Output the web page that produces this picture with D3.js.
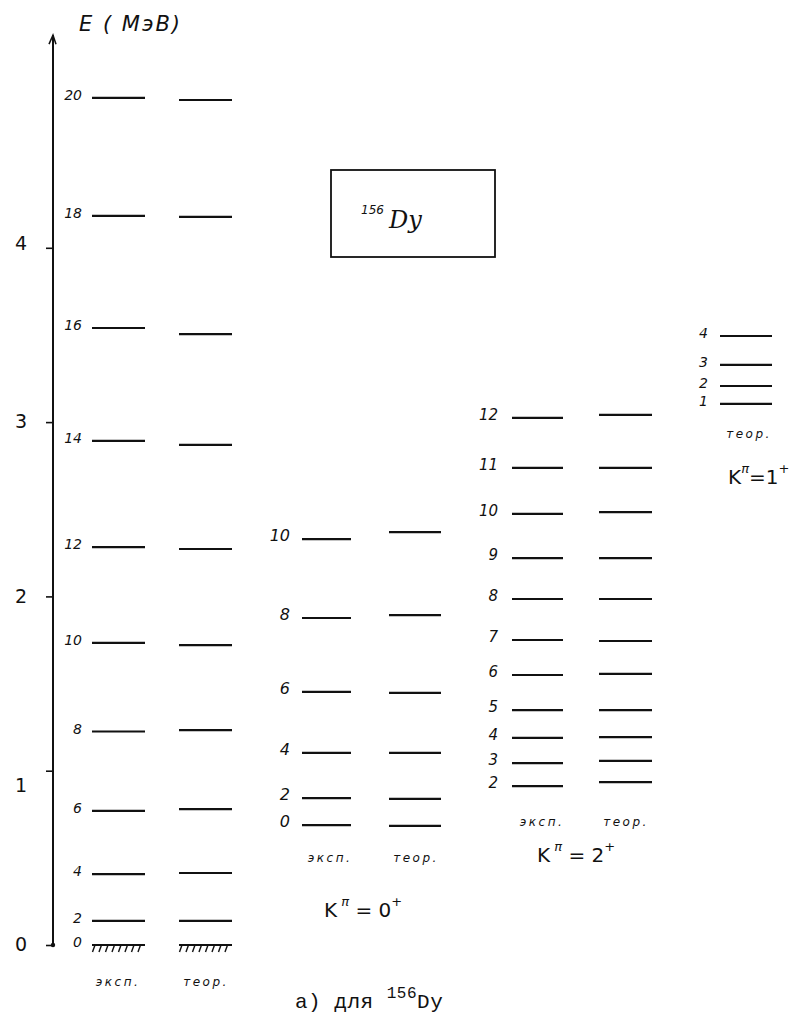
<!DOCTYPE html>
<html>
<head>
<meta charset="utf-8">
<script src="https://cdn.jsdelivr.net/npm/d3@7"></script>
<style>
  body { margin: 0; background: #fff; }
  svg { display: block; }
  text { fill: #111; }
</style>
</head>
<body>
<svg id="chart" width="796" height="1016"></svg>
<script>
// ---------- data (energies in MeV) ----------
const axisTicks = [0, 1, 2, 3, 4];

const groundSpins = [0, 2, 4, 6, 8, 10, 12, 14, 16, 18, 20];
const groundExp   = [0, 0.138, 0.407, 0.769, 1.225, 1.733, 2.283, 2.892, 3.540, 4.183, 4.860];
const groundTheor = [0, 0.138, 0.413, 0.780, 1.233, 1.721, 2.272, 2.869, 3.505, 4.177, 4.848];

const k0Spins = [0, 2, 4, 6, 8, 10];
const k0Exp   = [0.688, 0.843, 1.102, 1.452, 1.876, 2.329];
const k0Theor = [0.683, 0.838, 1.102, 1.446, 1.893, 2.369];

const k2Spins = [2, 3, 4, 5, 6, 7, 8, 9, 10, 11, 12];
const k2Exp   = [0.912, 1.044, 1.188, 1.348, 1.549, 1.750, 1.985, 2.220, 2.473, 2.737, 3.024];
const k2Theor = [0.935, 1.056, 1.193, 1.348, 1.555, 1.744, 1.985, 2.220, 2.484, 2.737, 3.041];

const k1Spins = [1, 2, 3, 4];
const k1Theor = [3.104, 3.207, 3.328, 3.494];

const columnLabels = { exp: "эксп.", theor: "теор." };

// ---------- drawing ----------
const svg = d3.select("#chart");
const y = d3.scaleLinear().domain([0, 5]).range([945, 945 - 5 * 174.3]);
const axisX = 53;
const handFont = "'DejaVu Sans', sans-serif";

// axis
const axisG = svg.append("g").attr("transform", `translate(${axisX},0)`);
axisG.call(d3.axisLeft(y).tickValues(axisTicks).tickSize(7).tickPadding(19).tickFormat(d3.format("d")));
axisG.select(".domain").remove();
axisG.selectAll(".tick line").attr("stroke", "#111").attr("stroke-width", 1.6);
axisG.selectAll(".tick text")
  .attr("font-family", handFont)
  .attr("font-size", 19)
  .attr("fill", "#111")
  .attr("dy", d => d === 1 ? "1.1em" : d === 4 ? "0.1em" : "0.3em");
axisG.append("line")
  .attr("x1", 0).attr("x2", 0)
  .attr("y1", y(0)).attr("y2", y(5.22))
  .attr("stroke", "#111").attr("stroke-width", 2);
axisG.append("path")
  .attr("d", `M-4,${y(5.22) + 9} L0,${y(5.22)} L3,${y(5.22) + 9}`)
  .attr("fill", "none").attr("stroke", "#111").attr("stroke-width", 1.5);
axisG.append("circle").attr("cx", 0).attr("cy", y(0)).attr("r", 2.2).attr("fill", "#111");

svg.append("text")
  .attr("x", 79).attr("y", 31)
  .attr("font-family", handFont).attr("font-size", 21)
  .attr("font-style", "italic")
  .attr("letter-spacing", 2)
  .text("E ( MэВ)");

// helper to draw a column of levels
function drawColumn(energies, x1, x2) {
  svg.append("g").selectAll("line")
    .data(energies)
    .join("line")
    .attr("x1", x1).attr("x2", x2)
    .attr("y1", d => y(d)).attr("y2", d => y(d))
    .attr("stroke", "#111").attr("stroke-width", 2.2);
}
function drawSpins(spins, energies, xRight, size) {
  svg.append("g").selectAll("text")
    .data(spins)
    .join("text")
    .attr("x", xRight)
    .attr("y", (d, i) => y(energies[i]))
    .attr("dy", "0.15em")
    .attr("text-anchor", "end")
    .attr("font-family", handFont)
    .attr("font-style", "italic")
    .attr("font-size", size)
    .text(d => d);
}
function colLabel(txt, x, yy) {
  svg.append("text")
    .attr("x", x).attr("y", yy)
    .attr("text-anchor", "middle")
    .attr("font-family", handFont)
    .attr("font-style", "italic")
    .attr("font-size", 12)
    .attr("letter-spacing", 2.5)
    .text(txt);
}
function hatch(x1, x2, e) {
  const g = svg.append("g");
  const yy = y(e);
  d3.range(x1 + 3, x2, 6.5).forEach(x => {
    g.append("line").attr("x1", x).attr("y1", yy).attr("x2", x - 2.5).attr("y2", yy + 7)
      .attr("stroke", "#111").attr("stroke-width", 1.4);
  });
}
function kLabel(x, yy, val, size, tight) {
  const t = svg.append("text").attr("x", x).attr("y", yy)
    .attr("font-family", handFont).attr("font-size", size);
  t.append("tspan").text("K");
  t.append("tspan").attr("dy", -size * 0.55).attr("font-size", size * 0.65).attr("font-style", "italic").text(tight ? "π" : " π");
  t.append("tspan").attr("dy", size * 0.55).text(tight ? "=" + val : " = " + val);
  t.append("tspan").attr("dy", -size * 0.55).attr("font-size", size * 0.65).text("+");
}

// ground band
drawColumn(groundExp, 92, 145);
drawColumn(groundTheor, 179, 232);
drawSpins(groundSpins, groundExp, 82, 14);
hatch(92, 145, 0);
hatch(179, 232, 0);
colLabel(columnLabels.exp, 118, 986);
colLabel(columnLabels.theor, 206, 986);

// K=0 band
drawColumn(k0Exp, 302, 351);
drawColumn(k0Theor, 389, 441);
drawSpins(k0Spins, k0Exp, 290, 16);
colLabel(columnLabels.exp, 330, 862);
colLabel(columnLabels.theor, 416, 862);
kLabel(324, 917, "0", 20, false);

// K=2 band
drawColumn(k2Exp, 512, 563);
drawColumn(k2Theor, 599, 652);
drawSpins(k2Spins, k2Exp, 498, 15);
colLabel(columnLabels.exp, 542, 826);
colLabel(columnLabels.theor, 626, 826);
kLabel(537, 862, "2", 20, false);

// K=1 band
drawColumn(k1Theor, 720, 772);
drawSpins(k1Spins, k1Theor, 708, 14);
colLabel(columnLabels.theor, 749, 438);
kLabel(728, 484, "1", 20, true);

// nucleus box
svg.append("rect")
  .attr("x", 331).attr("y", 170).attr("width", 164).attr("height", 87)
  .attr("fill", "none").attr("stroke", "#111").attr("stroke-width", 1.8);
const bt = svg.append("text").attr("x", 361).attr("y", 228)
  .attr("font-family", handFont).attr("font-style", "italic");
bt.append("tspan").attr("font-size", 12).attr("dy", -14).text("156");
bt.append("tspan").attr("font-size", 24).attr("dy", 14).attr("dx", 5).attr("font-family", "'DejaVu Serif', serif").text("Dy");

// caption
const cap = svg.append("text").attr("x", 295).attr("y", 1008)
  .attr("font-family", "'Liberation Mono', 'DejaVu Sans Mono', monospace").attr("font-size", 21)
  .attr("letter-spacing", 0.5);
cap.append("tspan").text("а) для ");
cap.append("tspan").attr("font-size", 16).attr("dy", -10).text("156");
cap.append("tspan").attr("dy", 10).text("Dy");
</script>
</body>
</html>
